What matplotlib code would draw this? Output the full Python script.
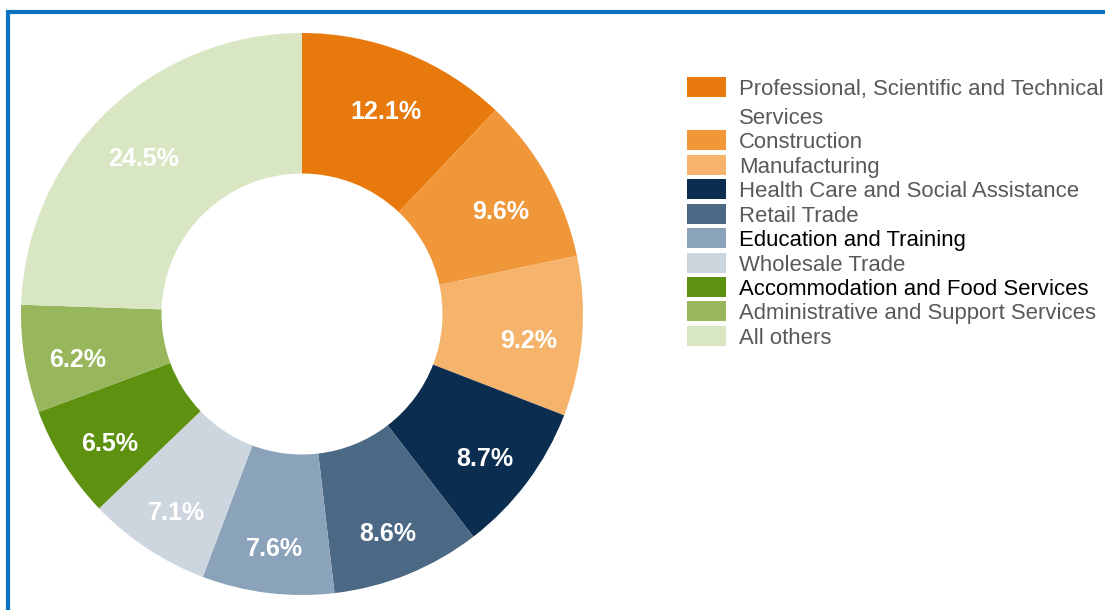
import matplotlib
matplotlib.use("Agg")
import matplotlib.pyplot as plt
from matplotlib.patches import Rectangle
import numpy as np

categories = [
    "Professional, Scientific and Technical\nServices",
    "Construction",
    "Manufacturing",
    "Health Care and Social Assistance",
    "Retail Trade",
    "Education and Training",
    "Wholesale Trade",
    "Accommodation and Food Services",
    "Administrative and Support Services",
    "All others",
]
values = [12.1, 9.6, 9.2, 8.7, 8.6, 7.6, 7.1, 6.5, 6.2, 24.5]
colors = ["#e8790c", "#f0973a", "#f5b36c", "#0b2d4f", "#4b6884",
          "#8aa3ba", "#cdd6df", "#5f9111", "#98b65c", "#d9e6c4"]
legend_text_colors = ["#595959", "#595959", "#595959", "#595959", "#595959",
                      "#000000", "#595959", "#000000", "#595959", "#595959"]

W, H = 1105, 610
fig = plt.figure(figsize=(W / 100, H / 100), dpi=100)
fig.patch.set_facecolor("white")

# donut axes: center (302, 314 from top), radius 281 px
cx, cy, R = 302, H - 314, 281
ax = fig.add_axes([(cx - R) / W, (cy - R) / H, 2 * R / W, 2 * R / H])
wedges, _ = ax.pie(values, colors=colors, startangle=90, counterclock=False,
                   wedgeprops=dict(width=0.5, linewidth=0))
ax.set_xlim(-1, 1)
ax.set_ylim(-1, 1)
ax.set_aspect("equal")
ax.axis("off")
for w in wedges:
    w.set_clip_on(False)

for w, v in zip(wedges, values):
    ang = np.deg2rad((w.theta1 + w.theta2) / 2)
    r = 0.81
    ax.annotate(f"{v:.1f}%", xy=(r * np.cos(ang), r * np.sin(ang)),
                xytext=(0, -6.5), textcoords="offset points",
                ha="center", va="center",
                color="white", fontsize=18, fontweight="bold", family="Liberation Sans")

# legend drawn manually
row_y = [87, 140, 165, 189, 214, 238, 263, 287, 311, 336]
for lbl, col, tcol, y in zip(categories, colors, legend_text_colors, row_y):
    fig.patches.append(Rectangle((687 / W, (H - y - 10) / H), 39 / W, 20 / H,
                                 transform=fig.transFigure, facecolor=col,
                                 edgecolor="none"))
    lines = lbl.split("\n")
    for i, line in enumerate(lines):
        fig.text(739 / W, (H - y - i * 29) / H, line, ha="left", va="center_baseline",
                 color=tcol, fontsize=15.9, family="Liberation Sans")

# blue frame (top and left visible)
fig.patches.append(Rectangle((8 / W, -0.1), 1.2, (H - 12) / H + 0.1,
                             transform=fig.transFigure, facecolor="none",
                             edgecolor="#0b72c2", linewidth=3.0, clip_on=False))

fig.savefig("out.png", dpi=100)
